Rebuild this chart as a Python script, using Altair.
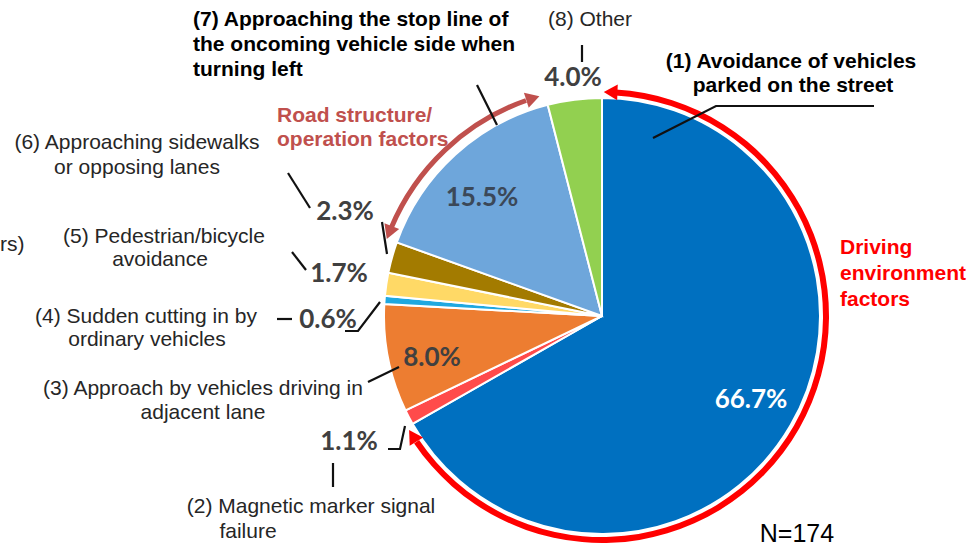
import math
import altair as alt
import pandas as pd

W, H = 971, 546
CX, CY, R = 602, 316, 218  # pie centre and radius in pixels

# ---- data -------------------------------------------------------------
categories = [
    "(1) Avoidance of vehicles parked on the street",
    "(2) Magnetic marker signal failure",
    "(3) Approach by vehicles driving in adjacent lane",
    "(4) Sudden cutting in by ordinary vehicles",
    "(5) Pedestrian/bicycle avoidance",
    "(6) Approaching sidewalks or opposing lanes",
    "(7) Approaching the stop line of the oncoming vehicle side when turning left",
    "(8) Other",
]
shares = [66.7, 1.1, 8.0, 0.6, 1.7, 2.3, 15.5, 4.0]
slice_colors = ["#0070c0", "#ff4b4b", "#ed7d31", "#1fa8e0",
                "#ffd966", "#a37b00", "#6ea6db", "#92d050"]

# percentage labels and where they sit
pct_labels = ["66.7%", "1.1%", "8.0%", "0.6%", "1.7%", "2.3%", "15.5%", "4.0%"]
pct_x = [751, 349, 432, 328, 339, 345, 482, 573]
pct_y = [400, 442, 358, 320, 274, 212, 198, 78]
pct_colors = ["#ffffff", "#404040", "#404040", "#404040",
              "#404040", "#404040", "#3b4858", "#404040"]

# category captions (plain)
plain_text = ["(8) Other", "(6) Approaching sidewalks", "or opposing lanes",
              "(5) Pedestrian/bicycle", "avoidance",
              "(4) Sudden cutting in by", "ordinary vehicles",
              "(3) Approach by vehicles driving in", "adjacent lane",
              "(2) Magnetic marker signal", "failure"]
plain_x = [590, 137, 137, 164, 160, 146, 147, 203, 203, 311, 248]
plain_y = [20, 143, 168, 237, 260, 317, 340, 389, 413, 507, 532]

# category captions (bold)
bold_left_text = ["(7) Approaching the stop line of",
                  "the oncoming vehicle side when", "turning left"]
bold_left_x = [193, 193, 193]
bold_left_y = [20, 45, 70]
bold_center_text = ["(1) Avoidance of vehicles", "parked on the street"]
bold_center_x = [791, 793]
bold_center_y = [62, 86]

# factor group captions
drive_text = ["Driving", "environment", "factors"]
drive_y = [248, 274, 300]
road_text = ["Road structure/", "operation factors"]
road_y = [116, 140]

# leader lines: (line id, x, y)
leaders = [
    ("l1", 653, 138), ("l1", 716, 106), ("l1", 874, 106),
    ("l7", 477, 85), ("l7", 497, 125),
    ("l8", 582, 45), ("l8", 582, 62),
    ("l6a", 288, 173), ("l6a", 310, 208),
    ("l6b", 382, 222), ("l6b", 387, 254),
    ("l5", 292, 252), ("l5", 306, 270),
    ("l4a", 277, 319), ("l4a", 292, 319),
    ("l4b", 345, 331), ("l4b", 358, 331), ("l4b", 380, 302),
    ("l3", 368, 382), ("l3", 399, 367),
    ("l2a", 388, 449), ("l2a", 400, 449), ("l2a", 405, 426),
    ("l2b", 333, 463), ("l2b", 333, 487),
]

# ---- derived tables ---------------------------------------------------
total = sum(shares)
cum = [0.0]
for s in shares:
    cum.append(cum[-1] + s)
deg = [c / total * 360 for c in cum]  # slice boundaries in degrees

pie_df = pd.DataFrame({"idx": range(len(shares)), "category": categories,
                       "share": shares, "color": slice_colors})

# group arrows: driving environment spans slice (1), road structure slice (7)
arrow_df = pd.DataFrame({
    "group": ["driving", "road"],
    "a0": [deg[0] + 3.5, deg[6] + 3.0],
    "a1": [deg[1] - 4.5, deg[7] - 5.0],
    "r_in": [221, 226],
    "r_out": [227, 231],
    "color": ["#ff0000", "#c0504d"],
})

heads = []
for _, row in arrow_df.iterrows():
    rm = (row.r_in + row.r_out) / 2
    for th, rot in ((row.a0 - 1.3, -90), (row.a1 + 1.8, 90)):
        t = math.radians(th)
        heads.append({"x": CX + rm * math.sin(t), "y": CY - rm * math.cos(t),
                      "angle": (th + rot) % 360, "color": row.color})
head_df = pd.DataFrame(heads)

pct_df = pd.DataFrame({"text": pct_labels, "x": pct_x, "y": pct_y,
                       "color": pct_colors})
lead_df = pd.DataFrame(leaders, columns=["id", "x", "y"])
lead_df["seq"] = range(len(lead_df))

X = alt.X("x:Q", scale=alt.Scale(domain=[0, W], nice=False, zero=False), axis=None)
Y = alt.Y("y:Q", scale=alt.Scale(domain=[0, H], nice=False, zero=False,
                                 reverse=True), axis=None)

# ---- layers -----------------------------------------------------------
pie = alt.Chart(pie_df).mark_arc(outerRadius=R, stroke="white", strokeWidth=2).encode(
    theta=alt.Theta("share:Q", stack=True),
    order=alt.Order("idx:Q"),
    color=alt.Color("color:N", scale=None),
    x=alt.value(CX), y=alt.value(CY),
    tooltip=["category:N", "share:Q"],
)

arrows = alt.Chart(arrow_df).mark_arc().encode(
    theta=alt.Theta("a0:Q", scale=alt.Scale(domain=[0, 360], range=[0, 2 * math.pi])),
    theta2="a1:Q",
    radius=alt.Radius("r_out:Q", scale=None),
    radius2="r_in:Q",
    color=alt.Color("color:N", scale=None),
    x=alt.value(CX), y=alt.value(CY),
)

arrow_heads = alt.Chart(head_df).mark_point(shape="triangle-up", filled=True,
                                            opacity=1, size=250).encode(
    x=X, y=Y,
    angle=alt.Angle("angle:Q", scale=None),
    color=alt.Color("color:N", scale=None),
)

lines = alt.Chart(lead_df).mark_line(color="#111111", strokeWidth=2.2).encode(
    x=X, y=Y, detail="id:N", order="seq:Q")


def text_layer(texts, xs, ys, **props):
    df = pd.DataFrame({"text": texts, "x": xs, "y": ys})
    base = dict(font="Liberation Sans", fontSize=21, baseline="middle",
                color="#1a1a1a")
    base.update(props)
    return alt.Chart(df).mark_text(**base).encode(x=X, y=Y, text="text:N")


pct = alt.Chart(pct_df).mark_text(font="Lato", fontWeight="bold", fontSize=26,
                                  baseline="middle", align="center").encode(
    x=X, y=Y, text="text:N", color=alt.Color("color:N", scale=None))

plain = text_layer(plain_text, plain_x, plain_y, align="center", color="#262626")
bold_left = text_layer(bold_left_text, bold_left_x, bold_left_y, align="left",
                       fontWeight="bold", color="#000000")
bold_center = text_layer(bold_center_text, bold_center_x, bold_center_y,
                         align="center", fontWeight="bold", color="#000000")
drive = text_layer(drive_text, [840] * 3, drive_y, align="left",
                   fontWeight="bold", color="#ff0000")
road = text_layer(road_text, [277] * 2, road_y, align="left",
                  fontWeight="bold", color="#c0504d")
n_note = text_layer(["N=174"], [797], [534], align="center", fontSize=25,
                    color="#000000")
edge = text_layer(["rs)"], [0], [245], align="left", color="#262626")

chart = alt.layer(
    pie, arrows, arrow_heads, lines, pct, plain, bold_left, bold_center,
    drive, road, n_note, edge,
).resolve_scale(theta="independent").properties(
    width=W, height=H, autosize="none", padding=0,
).configure_view(stroke=None)

chart.save("out.html", embed_options={"renderer": "svg", "actions": False})
